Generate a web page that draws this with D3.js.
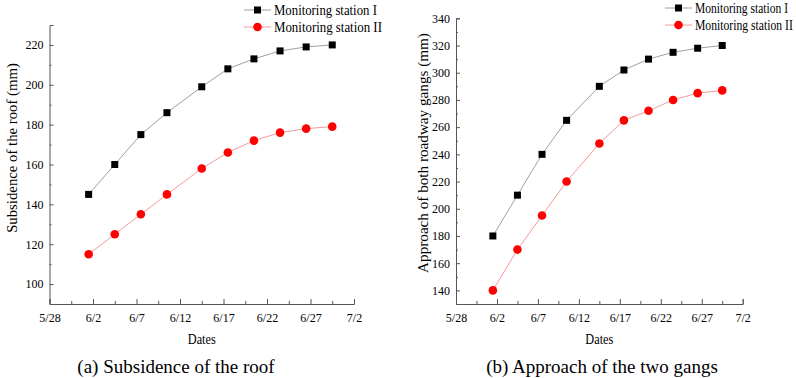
<!DOCTYPE html>
<html>
<head>
<meta charset="utf-8">
<script src="https://cdn.jsdelivr.net/npm/d3@7"></script>
<style>
  body { margin: 0; background: #fff; }
  svg { font-family: "Liberation Serif", "Times New Roman", serif; }
  .tick text { font-size: 12px; fill: #000; }
  .domain, .tick line { stroke: #555; }
</style>
</head>
<body>
<svg width="796" height="378"></svg>
<script>
// days counted from 5/28 (measurements taken mid-day)
const days = [4.5, 7.5, 10.5, 13.5, 17.5, 20.5, 23.5, 26.5, 29.5, 32.5];
const dateTicks = [0, 5, 10, 15, 20, 25, 30, 35];
const dateLabels = ['5/28', '6/2', '6/7', '6/12', '6/17', '6/22', '6/27', '7/2'];

// (a) subsidence of the roof (mm)
const roofStation1 = [145, 160, 175, 186, 199, 208, 213, 217, 219, 220];
const roofStation2 = [115, 125, 135, 145, 158, 166, 172, 176, 178, 179];
const roofTicks = [100, 120, 140, 160, 180, 200, 220];

// (b) approach of both roadway gangs (mm)
const gangStation1 = [180, 210, 240, 265, 290, 302, 310, 315, 318, 320];
const gangStation2 = [140, 170, 195, 220, 248, 265, 272, 280, 285, 287];
const gangTicks = [140, 160, 180, 200, 220, 240, 260, 280, 300, 320, 340];

const seriesNames = ['Monitoring station I', 'Monitoring station II'];

const svg = d3.select('svg');
const serif = '"Liberation Serif", "Times New Roman", serif';

// squeeze a text horizontally so it is `len` px wide (the reference font is condensed)
function squeeze(text, len, x, y, rotate) {
  const w = text.node().getComputedTextLength();
  const s = len / w;
  text.attr('transform', `translate(${x},${y})` + (rotate ? ' rotate(-90)' : '') + ` scale(${s},1)`);
}

function drawPanel(p) {
  const x = d3.scaleLinear().domain([0, 35]).range([p.left, p.right]);
  const y = d3.scaleLinear().domain(p.yDomain).range([p.bottom, p.top]);
  const g = svg.append('g');

  // x axis, ticks point inward, minor ticks halfway
  g.append('g')
    .attr('transform', `translate(0,${p.bottom})`)
    .call(d3.axisBottom(x).tickValues(dateTicks).tickSize(-5).tickPadding(9)
      .tickFormat((d, i) => dateLabels[i]))
    .attr('font-family', serif)
    .call(a => a.selectAll('.tick text').attr('dy', '0.71em'));
  g.append('g')
    .attr('transform', `translate(0,${p.bottom})`)
    .call(d3.axisBottom(x).tickValues(dateTicks.slice(0, -1).map(d => d + 2.5))
      .tickSize(-3).tickFormat(''))
    .call(a => a.select('.domain').remove());

  // y axis
  g.append('g')
    .attr('transform', `translate(${p.left},0)`)
    .call(d3.axisLeft(y).tickValues(p.yTicks).tickSize(-4))
    .attr('font-family', serif)
    .call(a => a.selectAll('.tick text').attr('x', -6));
  g.append('g')
    .attr('transform', `translate(${p.left},0)`)
    .call(d3.axisLeft(y).tickValues(d3.range(p.yDomain[0] + 10, p.yDomain[1], 10)
      .filter(v => v % 20 === 10)).tickSize(-2).tickFormat(''))
    .call(a => a.select('.domain').remove());

  const line = d3.line().x((d, i) => x(days[i])).y(d => y(d));

  g.append('path').datum(p.s1).attr('d', line)
    .attr('fill', 'none').attr('stroke', '#a0a0a0').attr('stroke-width', 1);
  g.append('path').datum(p.s2).attr('d', line)
    .attr('fill', 'none').attr('stroke', '#f59a9a').attr('stroke-width', 1);

  g.selectAll('.sq').data(p.s1).enter().append('rect')
    .attr('x', (d, i) => x(days[i]) - 3.5).attr('y', d => y(d) - 3.5)
    .attr('width', 7).attr('height', 7).attr('fill', '#000');
  g.selectAll('.dot').data(p.s2).enter().append('circle')
    .attr('cx', (d, i) => x(days[i])).attr('cy', d => y(d))
    .attr('r', 4.3).attr('fill', '#ff0000');

  // legend
  const lg = g.append('g').attr('transform', `translate(${p.legX},${p.legY})`);
  seriesNames.forEach((name, i) => {
    const yy = i * p.legGap;
    lg.append('line').attr('x1', 0).attr('x2', 27).attr('y1', yy).attr('y2', yy)
      .attr('stroke', i === 0 ? '#a0a0a0' : '#f59a9a');
    if (i === 0) {
      lg.append('rect').attr('x', 10).attr('y', yy - 3.5).attr('width', 7).attr('height', 7).attr('fill', '#000');
    } else {
      lg.append('circle').attr('cx', 13.5).attr('cy', yy).attr('r', 4.3).attr('fill', '#ff0000');
    }
    const t = lg.append('text').attr('font-size', p.legFont).text(name);
    squeeze(t, p.legLen[i], 30, yy + 5, false);
  });

  // axis titles
  const dt = g.append('text').attr('text-anchor', 'middle').attr('font-size', 14).text('Dates');
  squeeze(dt, 28, (p.left + p.right) / 2, 344, false);
  const yt = g.append('text').attr('text-anchor', 'middle').attr('font-size', 14).text(p.yLabel);
  squeeze(yt, p.yLabelLen, p.yLabelX, p.yLabelY, true);

  // caption
  g.append('text').attr('x', p.capX).attr('y', 373)
    .attr('text-anchor', 'middle').attr('font-size', 19).text(p.caption);
}

drawPanel({
  left: 49.5, right: 354, top: 25, bottom: 304,
  yDomain: [90, 230], yTicks: roofTicks,
  s1: roofStation1, s2: roofStation2,
  legX: 244, legY: 10, legGap: 17, legFont: 15, legLen: [103, 108],
  yLabel: 'Subsidence of the roof (mm)', yLabelX: 17, yLabelY: 148, yLabelLen: 170,
  caption: '(a) Subsidence of the roof', capX: 176
});

drawPanel({
  left: 456, right: 742.7, top: 18.3, bottom: 304,
  yDomain: [130, 340], yTicks: gangTicks,
  s1: gangStation1, s2: gangStation2,
  legX: 665, legY: 8, legGap: 17, legFont: 14, legLen: [93, 98],
  yLabel: 'Approach of both roadway gangs (mm)', yLabelX: 428, yLabelY: 153, yLabelLen: 240,
  caption: '(b) Approach of the two gangs', capX: 602
});
</script>
</body>
</html>
